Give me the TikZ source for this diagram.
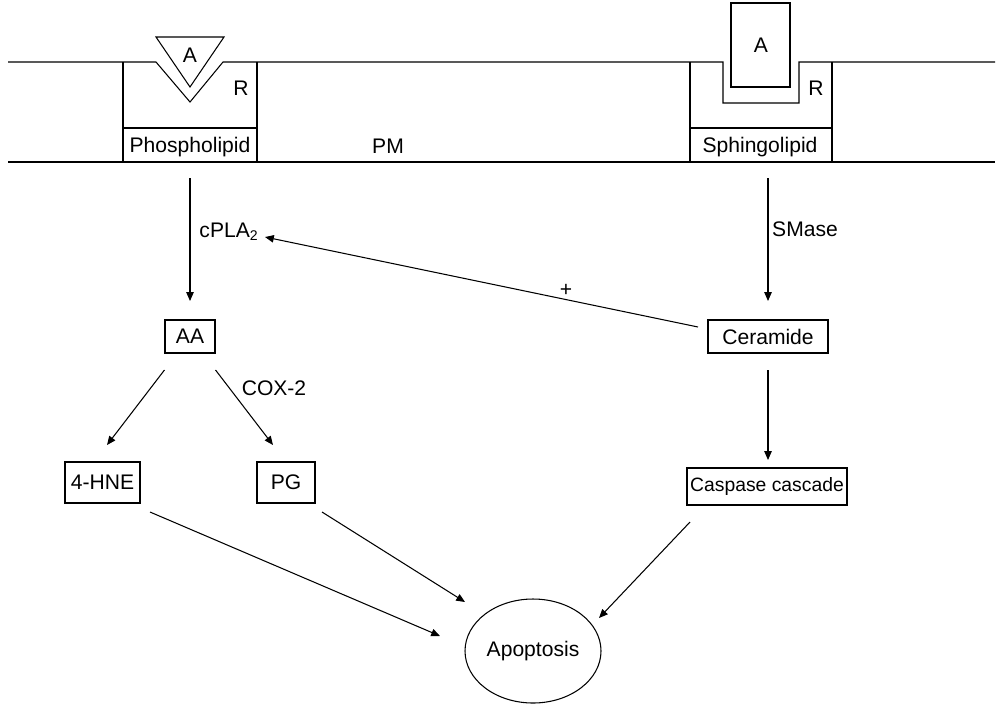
\documentclass[tikz,border=0pt]{standalone}
\usepackage{fontspec}
\setmainfont{Liberation Sans}
\usetikzlibrary{positioning,arrows.meta,shapes.geometric}

\begin{document}
\begin{tikzpicture}[x=0.02cm, y=-0.02cm,
    every node/.style={font=\fontsize{12}{14}\selectfont},
    membrane/.style={line width=0.6pt},
    label/.style={anchor=base},
    boxnode/.style={draw, line width=0.6pt, inner sep=0pt},
    flow/.style={-{Triangle[length=5pt,width=4.2pt]}, line width=0.6pt}]
  \useasboundingbox (0,0) rectangle (999,707);

  % plasma membrane with the two receptors
  \draw[membrane] (8,62) -- (156,62) -- (190,102) -- (223,62) -- (723,62)
    -- (723,103) -- (799,103) -- (799,62) -- (995,62);
  \draw[membrane] (8,162) -- (995,162);
  \draw[membrane] (123,62) -- (123,162) (257,62) -- (257,162) (123,128) -- (257,128);
  \draw[membrane] (690,62) -- (690,162) (832,62) -- (832,162) (690,128) -- (832,128);
  \draw[membrane] (156,37) -- (224,37) -- (190,87) -- cycle;
  \draw[membrane] (731,3) rectangle (790,87);

  \node[label] (ligandL) at (190,62) {A};
  \node[label] (ligandR) at (761,52) {A};
  \node[label] (recL) at (241,95) {R};
  \node[label] (recR) at (816,95) {R};
  \node[label] (phospho) at (190,152) {Phospholipid};
  \node[label] (sphingo) at (760,152) {Sphingolipid};
  \node[label] (pm) at (388,153) {PM};

  % metabolites
  \node[boxnode, minimum width=50*0.02cm, minimum height=33*0.02cm] (aa) at (190,336.5) {AA};
  \node[boxnode, minimum width=120*0.02cm, minimum height=33*0.02cm] (ceramide) at (768,336.5) {Ceramide};
  \node[boxnode, minimum width=75*0.02cm, minimum height=41*0.02cm] (hne) at (102.5,482.5) {4-HNE};
  \node[boxnode, minimum width=58*0.02cm, minimum height=41*0.02cm] (pg) at (286,482.5) {PG};
  \node[boxnode, minimum width=160*0.02cm, minimum height=37*0.02cm,
    font=\fontsize{11}{13}\selectfont] (caspase) at (767,486.5) {Caspase cascade};
  \node[draw, ellipse, inner sep=0pt, line width=0.6pt, minimum width=136*0.02cm,
    minimum height=104*0.02cm] (apoptosis) at (533,651) {Apoptosis};

  \node[label] (cpla) at (229,237) {cPLA\textsubscript{2}};
  \node[label] (smase) at (805,236) {SMase};
  \node[label] (cox) at (274,395) {COX-2};
  \node (plus) at (566,290) {+};

  % free ends of the connectors
  \coordinate (phosphoOut) at (190,178);
  \coordinate (aaIn) at (190,301);
  \coordinate (sphingoOut) at (768,178);
  \coordinate (ceramideIn) at (768,301);
  \coordinate (ceramideOut) at (698,327);
  \coordinate (cplaIn) at (265,237);
  \coordinate (hneIn) at (107,445);
  \coordinate (pgIn) at (273,445);
  \coordinate (caspaseIn) at (768,460);
  \coordinate (hneOut) at (150,512);
  \coordinate (pgOut) at (322,512);
  \coordinate (caspaseOut) at (690,522);
  \coordinate (apoL) at (440,636);
  \coordinate (apoM) at (465,602);
  \coordinate (apoR) at (599,618);

  \draw[flow] (phosphoOut) -- (aaIn);
  \draw[flow] (sphingoOut) -- (ceramideIn);
  \draw[flow] (ceramideOut) -- (cplaIn);
  \draw[flow] (aa.south west |- 0,370) -- (hneIn);
  \draw[flow] (aa.south east |- 0,370) -- (pgIn);
  \draw[flow] (ceramide.south |- 0,370) -- (caspaseIn);
  \draw[flow] (hneOut) -- (apoL);
  \draw[flow] (pgOut) -- (apoM);
  \draw[flow] (caspaseOut) -- (apoR);
\end{tikzpicture}
\end{document}
